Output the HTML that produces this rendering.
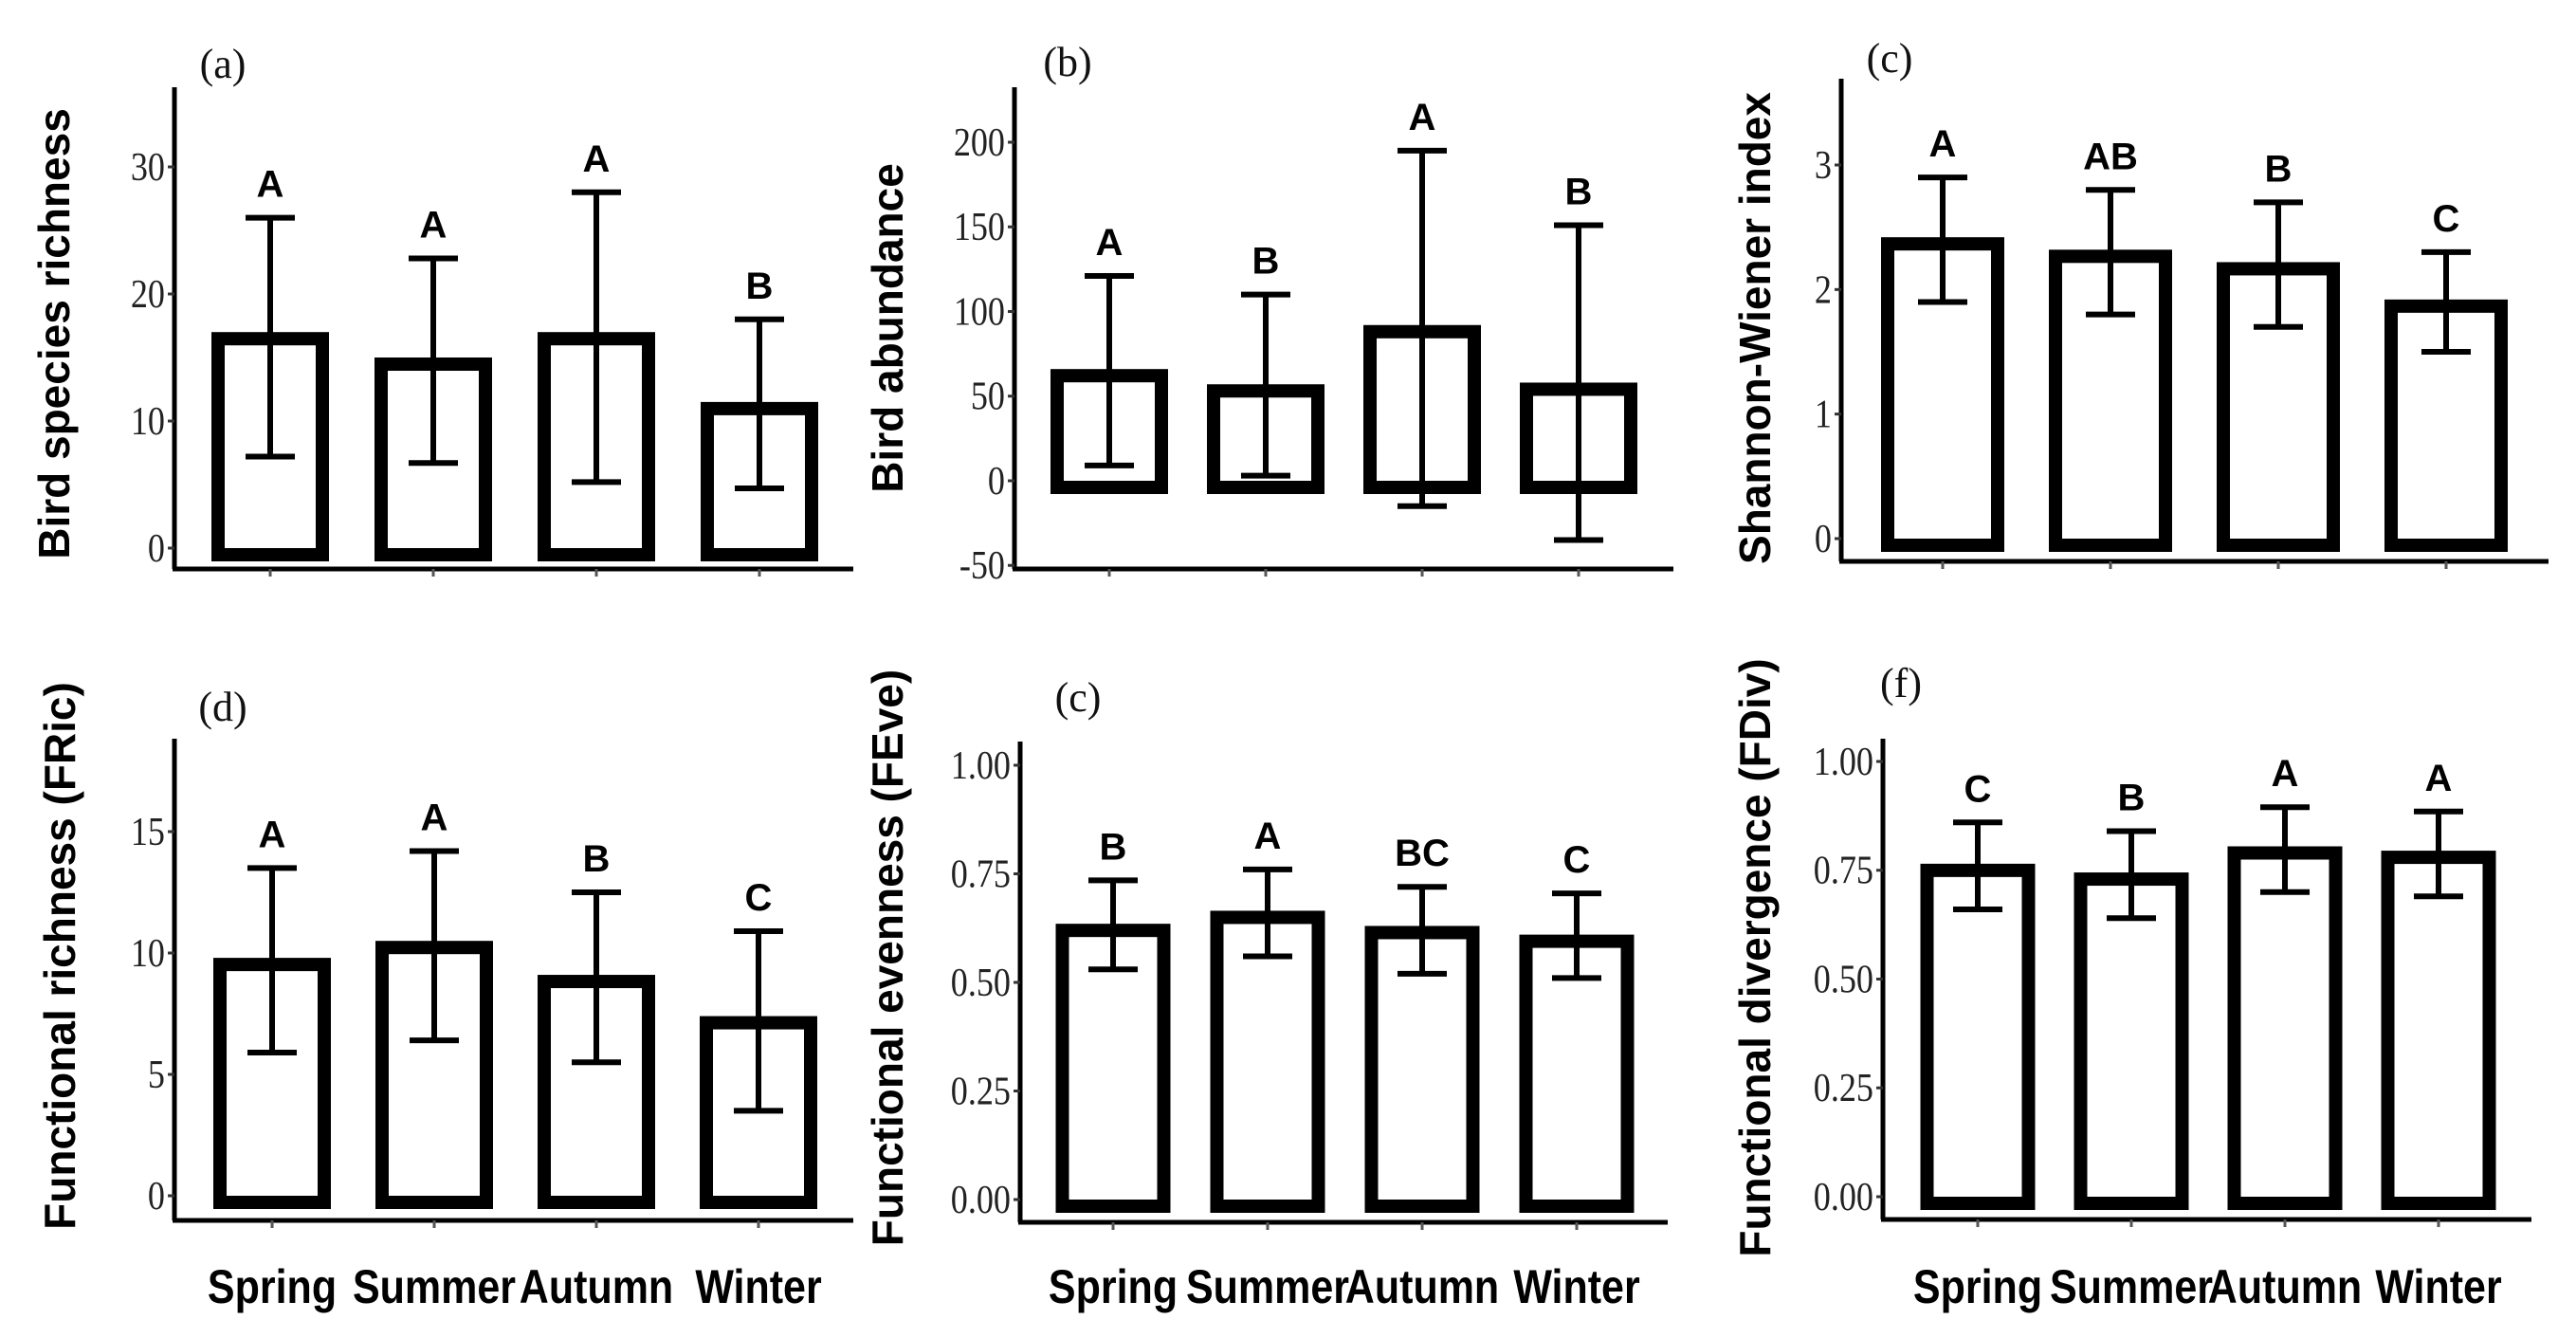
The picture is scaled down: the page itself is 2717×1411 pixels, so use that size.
<!DOCTYPE html>
<html><head><meta charset="utf-8"><style>
html,body{margin:0;padding:0;background:#fff;}
svg{display:block;}
</style></head><body>
<svg id="chart" width="2717" height="1411" viewBox="0 0 2717 1411" xmlns="http://www.w3.org/2000/svg"></svg>
<script>
const seasons = ["Spring","Summer","Autumn","Winter"];
const meanA = [17, 15, 17, 11.5];
const lowA = [7.2, 6.7, 5.2, 4.7];
const highA = [26, 22.8, 28, 18];
const letA = ["A","A","A","B"];
const ticksA = [0,10,20,30];
const meanB = [66, 57, 92, 58];
const lowB = [9, 3, -15, -35];
const highB = [121, 110, 195, 151];
const letB = ["A","B","A","B"];
const ticksB = [-50,0,50,100,150,200];
const meanC = [2.42, 2.32, 2.22, 1.92];
const lowC = [1.9, 1.8, 1.7, 1.5];
const highC = [2.9, 2.8, 2.7, 2.3];
const letC = ["A","AB","B","C"];
const ticksC = [0,1,2,3];
const meanD = [9.8, 10.5, 9.1, 7.4];
const lowD = [5.9, 6.4, 5.5, 3.5];
const highD = [13.5, 14.2, 12.5, 10.9];
const letD = ["A","A","B","C"];
const ticksD = [0,5,10,15];
const meanE = [0.635, 0.665, 0.63, 0.61];
const lowE = [0.53, 0.56, 0.52, 0.51];
const highE = [0.735, 0.76, 0.72, 0.705];
const letE = ["B","A","BC","C"];
const ticksE = [0,0.25,0.5,0.75,1];
const meanF = [0.765, 0.745, 0.805, 0.795];
const lowF = [0.66, 0.64, 0.70, 0.69];
const highF = [0.86, 0.84, 0.895, 0.885];
const letF = ["C","B","A","A"];
const ticksF = [0,0.25,0.5,0.75,1];

const NS = "http://www.w3.org/2000/svg";
const svg = document.getElementById("chart");
function mk(tag, attrs, parent, text){
  const e = document.createElementNS(NS, tag);
  for (const k in attrs) e.setAttribute(k, attrs[k]);
  if (text !== undefined) e.textContent = text;
  (parent||svg).appendChild(e);
  return e;
}

const panels = [
 {id:"a", title:"Bird species richness", mean:meanA, low:lowA, high:highA, let:letA, ticks:ticksA, fmt:v=>String(v),
  ax:184, top:92, base:600, right:900, v0:0, p0:578, v1:30, p1:176, cx0:285, step:172, bw:124, tx:57, ty:352, lx:235, ly:82, lab:"(a)", xl:false},
 {id:"b", title:"Bird abundance", mean:meanB, low:lowB, high:highB, let:letB, ticks:ticksB, fmt:v=>String(v),
  ax:1070, top:92, base:600, right:1765, v0:0, p0:507, v1:200, p1:150, cx0:1170, step:165, bw:124, tx:936, ty:346, lx:1126, ly:80, lab:"(b)", xl:false},
 {id:"c", title:"Shannon-Wiener index", mean:meanC, low:lowC, high:highC, let:letC, ticks:ticksC, fmt:v=>String(v),
  ax:1942, top:83, base:592, right:2688, v0:0, p0:568, v1:3, p1:174, cx0:2049, step:177, bw:130, tx:1851, ty:346, lx:1993, ly:76, lab:"(c)", xl:false},
 {id:"d", title:"Functional richness (FRic)", mean:meanD, low:lowD, high:highD, let:letD, ticks:ticksD, fmt:v=>String(v),
  ax:184, top:779, base:1287, right:900, v0:0, p0:1261, v1:15, p1:877, cx0:287, step:171, bw:124, tx:63, ty:1008, lx:235, ly:760, lab:"(d)", xl:true},
 {id:"e", title:"Functional evenness (FEve)", mean:meanE, low:lowE, high:highE, let:letE, ticks:ticksE, fmt:v=>v.toFixed(2),
  ax:1076, top:782, base:1289, right:1759, v0:0, p0:1265, v1:1, p1:807, cx0:1174, step:163, bw:121, tx:936, ty:1010, lx:1137, ly:750, lab:"(c)", xl:true},
 {id:"f", title:"Functional divergence (FDiv)", mean:meanF, low:lowF, high:highF, let:letF, ticks:ticksF, fmt:v=>v.toFixed(2),
  ax:1986, top:779, base:1286, right:2670, v0:0, p0:1262, v1:1, p1:803, cx0:2086, step:162, bw:121, tx:1851, ty:1010, lx:2005, ly:735, lab:"(f)", xl:true}
];

panels.forEach(P => {
  const g = mk("g", {});
  
  
  const y = v => P.p0 + (v - P.v0) * (P.p1 - P.p0) / (P.v1 - P.v0);
  const x = i => P.cx0 + i * P.step;

  const pl = mk("text", {x:P.lx, y:P.ly, "text-anchor":"middle", "font-family":"Liberation Serif, serif", "font-size":44, fill:"#111"}, g, P.lab);
  
  

  const yt = mk("text", {x:0, y:0, transform:`translate(${P.tx+16},${P.ty}) rotate(-90)`, "text-anchor":"middle", "font-family":"Liberation Sans, sans-serif", "font-weight":"bold", "font-size":46, fill:"#000"}, g, P.title);
  
  

  const ya = mk("line", {x1:P.ax, y1:P.top, x2:P.ax, y2:P.base, stroke:"#000", "stroke-width":5}, g);
  
  
  const xa = mk("line", {x1:P.ax-2, y1:P.base, x2:P.right, y2:P.base, stroke:"#000", "stroke-width":5}, g);
  
  

  P.ticks.forEach(t => {
    const tm = mk("line", {x1:P.ax-7, y1:y(t), x2:P.ax, y2:y(t), stroke:"#333", "stroke-width":3}, g);
    
    
    const tl = mk("text", {x:P.ax-10, y:y(t)+14, "text-anchor":"end", "font-family":"Liberation Serif, serif", "font-size":42, fill:"#222", transform:`translate(${(P.ax-10)*0.14},0) scale(0.86,1)`}, g, P.fmt(t));
    
    
  });

  seasons.forEach((s, i) => {
    const cx = x(i);
    const tk = mk("line", {x1:cx, y1:P.base, x2:cx, y2:P.base+8, stroke:"#555", "stroke-width":3}, g);
    
    
    const yb = y(Math.max(P.mean[i], 0)), y0 = y(0);
    const bar = mk("rect", {x:cx-P.bw/2+7, y:yb+7, width:P.bw-14, height:Math.max(0, y0-yb), fill:"none", stroke:"#000", "stroke-width":14}, g);
    
    
    const yl = y(P.low[i]), yh = y(P.high[i]);
    const eb = mk("path", {d:`M${cx},${yl} V${yh} M${cx-26},${yh} H${cx+26} M${cx-26},${yl} H${cx+26}`, stroke:"#000", "stroke-width":6, fill:"none"}, g);
    
    
    const lt = mk("text", {x:cx, y:yh-22, "text-anchor":"middle", "font-family":"Liberation Sans, sans-serif", "font-weight":"bold", "font-size":40, fill:"#000"}, g, P.let[i]);
    
    
    if (P.xl) {
      const xl = mk("text", {x:0, y:0, transform:`translate(${cx},1374) scale(0.86,1)`, "text-anchor":"middle", "font-family":"Liberation Sans, sans-serif", "font-weight":"bold", "font-size":50, fill:"#000"}, g, s);
      
      
    }
  });
});
</script>
</body></html>
